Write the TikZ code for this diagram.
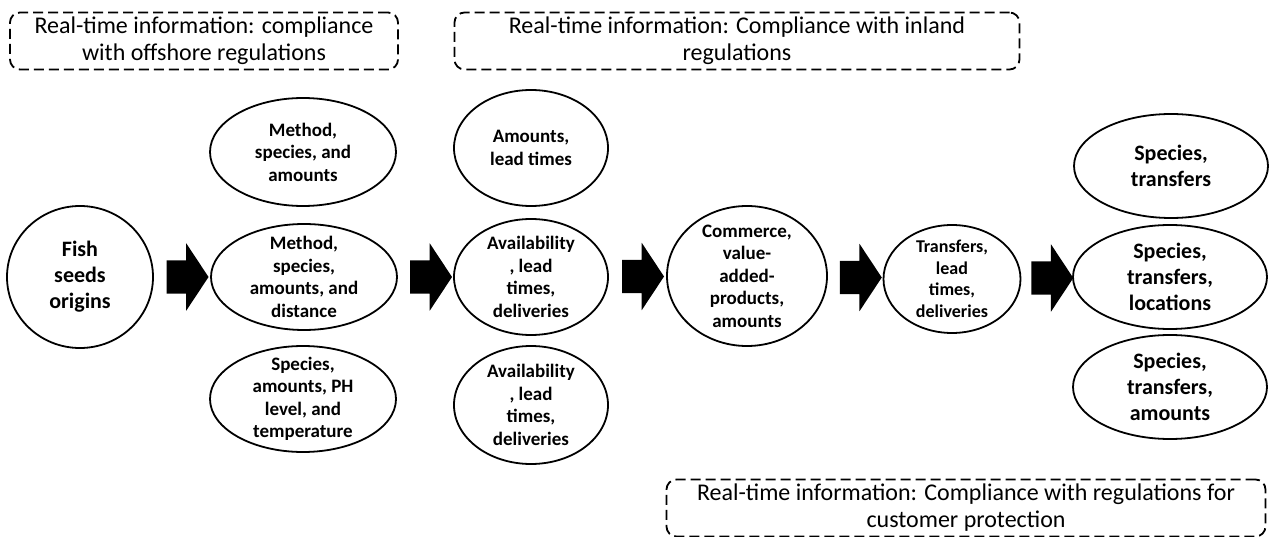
\documentclass[tikz,border=0pt]{standalone}
\usepackage{fontspec}
\setmainfont{Carlito}
\usetikzlibrary{shapes.geometric,shapes.arrows,calc}

\tikzset{
    blob/.style={draw, ellipse, line width=1.8pt, inner sep=-40pt, align=center,
        font=\fontsize{19}{22.5}\selectfont\bfseries},
    bigblob/.style={blob, font=\fontsize{22}{26}\selectfont\bfseries},
    infobox/.style={draw, dash pattern=on 10pt off 5pt, line width=1.8pt,
        rounded corners=10pt, align=center, minimum height=57pt,
        font=\fontsize{24}{27}\selectfont},
    flow/.style={single arrow, fill=black, draw=none, inner xsep=0pt,
        inner ysep=16.5pt, minimum height=42pt,
        single arrow head extend=17pt, single arrow tip angle=113}
}

\begin{document}
\begin{tikzpicture}[x=1pt, y=-1pt]
    \useasboundingbox (0,0) rectangle (1269,537);

    % compliance boxes
    \node[infobox, minimum width=388pt] (offshore) at (204,41)
        {Real-time information: compliance\\with offshore regulations};
    \node[infobox, minimum width=565pt] (inland) at (737,41)
        {Real-time information: Compliance with inland\\regulations};
    \node[infobox, minimum width=599pt] (customer) at (966,508)
        {Real-time information: Compliance with regulations for\\customer protection};

    % stages
    \node[bigblob, minimum width=146pt, minimum height=142pt] (fish) at (80,277)
        {Fish\\seeds\\origins};

    \node[blob, minimum width=186pt, minimum height=108pt] (method) at (303,152)
        {Method,\\species, and\\amounts};
    \node[blob, minimum width=186pt, minimum height=106pt] (distance) at (304,277)
        {Method,\\species,\\amounts, and\\distance};
    \node[blob, minimum width=186pt, minimum height=106pt] (ph) at (303,399)
        {Species,\\amounts, PH\\level, and\\temperature};

    \node[blob, minimum width=154pt, minimum height=116pt] (amounts) at (531,148)
        {Amounts,\\lead times};
    \node[blob, minimum width=154pt, minimum height=116pt] (avail) at (531,277)
        {Availability\\, lead\\times,\\deliveries};
    \node[blob, minimum width=154pt, minimum height=118pt] (availb) at (531,405)
        {Availability\\, lead\\times,\\deliveries};

    \node[blob, minimum width=160pt, minimum height=140pt] (commerce) at (747,276)
        {Commerce,\\value-\\added-\\products,\\amounts};

    \node[blob, minimum width=137pt, minimum height=108pt,
        font=\fontsize{18}{21.5}\selectfont\bfseries] (transfers) at (952,279)
        {Transfers,\\lead\\times,\\deliveries};

    \node[bigblob, minimum width=194pt, minimum height=104pt] (species) at (1171,166)
        {Species,\\transfers};
    \node[bigblob, minimum width=194pt, minimum height=104pt] (locations) at (1170,277)
        {Species,\\transfers,\\locations};
    \node[bigblob, minimum width=194pt, minimum height=104pt] (speciesb) at (1170,387)
        {Species,\\transfers,\\amounts};

    % block arrows
    \node[flow] (f1) at ($(fish.east)!0.5!(distance.west)$) {};
    \node[flow] (f2) at ($(distance.east)!0.5!(avail.west)$) {};
    \node[flow] (f3) at ($(avail.east)!0.5!(commerce.west)$) {};
    \node[flow] (f4) at ($(commerce.east)!0.5!(transfers.west)$) {};
    \node[flow] (f5) at ($(transfers.east)!0.5!(locations.west)$) {};
\end{tikzpicture}
\end{document}
